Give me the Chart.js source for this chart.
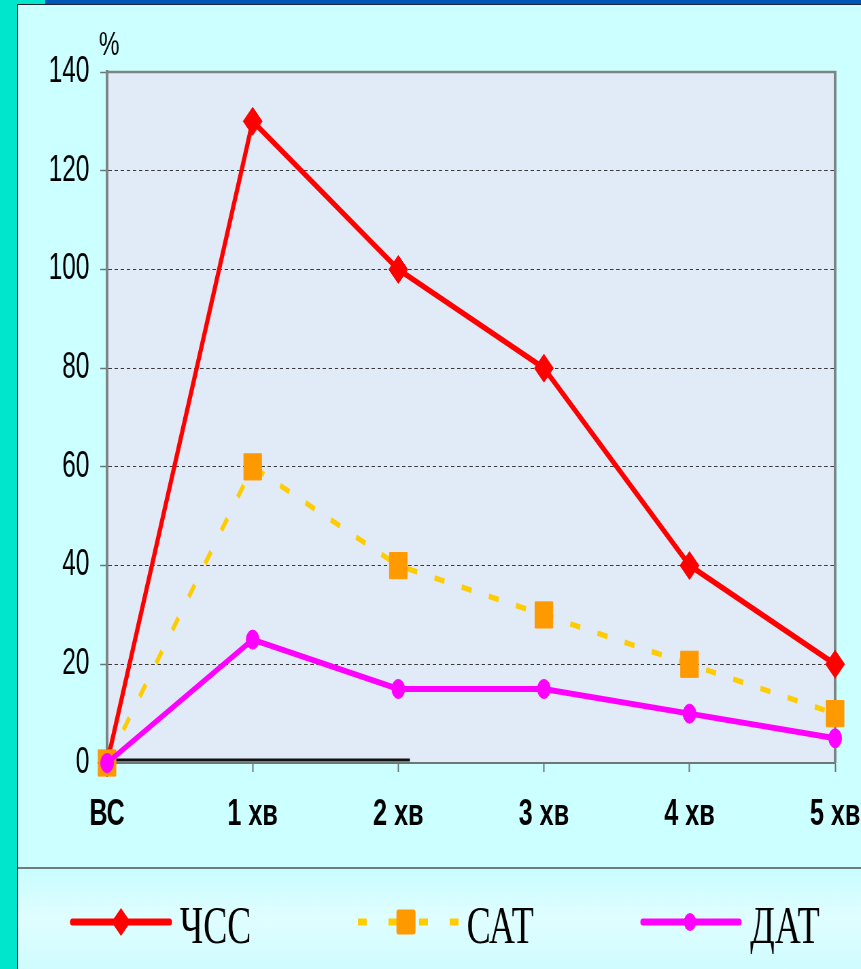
<!DOCTYPE html>
<html>
<head>
<meta charset="utf-8">
<script src="https://cdn.jsdelivr.net/npm/chart.js@4"></script>
<style>
  html, body { margin: 0; padding: 0; width: 861px; height: 969px; overflow: hidden; background: #CCFFFF; }
  /* the chart is drawn wide and narrowed horizontally, giving the condensed slide look */
  #stage { position: absolute; left: 18px; top: 0; width: 1240px; height: 969px; transform: scaleX(0.6798); transform-origin: 0 0; }
  .deco { position: absolute; z-index: 2; }
  #strip { left: 0; top: 0; width: 17px; height: 969px; background: #00E6CC; }
  #stripEdge { left: 17px; top: 0; width: 1px; height: 969px; background: #1c2a2a; }
  #corner { left: 0; top: 0; width: 45px; height: 4px; background: #00E6CC; }
  #topBar { left: 45px; top: 0; width: 816px; height: 4px; background: #0056B6; }
  #topEdge { left: 17px; top: 4px; width: 844px; height: 1px; background: #1c2430; }
</style>
</head>
<body>
<div id="strip" class="deco"></div>
<div id="stripEdge" class="deco"></div>
<div id="corner" class="deco"></div>
<div id="topBar" class="deco"></div>
<div id="topEdge" class="deco"></div>
<div id="stage"><canvas id="chart" width="1240" height="969"></canvas></div>
<script>
// Time points and the percentage change of each indicator
const categories = ['ВС', '1 хв', '2 хв', '3 хв', '4 хв', '5 хв'];
const heartRate = [0, 130, 100, 80, 40, 20];   // ЧСС
const systolic  = [0, 60, 40, 30, 20, 10];     // САТ
const diastolic = [0, 25, 15, 15, 10, 5];      // ДАТ
const seriesNames = ['ЧСС', 'САТ', 'ДАТ'];
const yMin = 0;
const yMax = 140;
const yStep = 20;
const unitLabel = '%';

const SANS = '"Liberation Sans", Arial, sans-serif';
const SERIF = '"Liberation Serif", "Times New Roman", serif';
const RED = '#FF0000', GOLD = '#FFCC00', ORANGE = '#FF9900', MAGENTA = '#FF00FF';

// page background, plot fill and the legend band
const backdrop = {
  id: 'backdrop',
  beforeDraw(chart) {
    const { ctx, width, height, chartArea: a } = chart;
    ctx.save();
    ctx.fillStyle = '#CCFFFF';
    ctx.fillRect(0, 0, width, height);
    const g = ctx.createLinearGradient(0, 869, 0, height);
    g.addColorStop(0, '#C9FDFF');
    g.addColorStop(0.5, '#E0FEFF');
    g.addColorStop(1, '#CFFCFF');
    ctx.fillStyle = g;
    ctx.fillRect(0, 869, width, height - 869);
    ctx.strokeStyle = '#6f7c7c';
    ctx.lineWidth = 2;
    ctx.beginPath();
    ctx.moveTo(0, 868);
    ctx.lineTo(width, 868);
    ctx.stroke();
    ctx.fillStyle = '#E1EBF7';
    ctx.fillRect(a.left, a.top, a.right - a.left, a.bottom - a.top);
    ctx.restore();
  }
};

// top and right frame of the plot, plus the dark stroke along the base
const frame = {
  id: 'frame',
  beforeDatasetsDraw(chart) {
    const { ctx, chartArea: a } = chart;
    ctx.save();
    ctx.strokeStyle = '#7b8585';
    ctx.lineWidth = 2.5;
    ctx.beginPath();
    ctx.moveTo(a.left, a.top);
    ctx.lineTo(a.right + 2, a.top);
    ctx.stroke();
    ctx.lineWidth = 4;
    ctx.beginPath();
    ctx.moveTo(a.right, a.top);
    ctx.lineTo(a.right, a.bottom);
    ctx.stroke();
    ctx.strokeStyle = '#111111';
    ctx.lineWidth = 3;
    ctx.beginPath();
    ctx.moveTo(a.left, a.bottom - 3);
    ctx.lineTo(a.left + (a.right - a.left) * 0.416, a.bottom - 3);
    ctx.stroke();
    // unit above the value axis
    ctx.fillStyle = '#000';
    ctx.font = '34px ' + SANS;
    ctx.textAlign = 'center';
    ctx.textBaseline = 'middle';
    ctx.fillText(unitLabel, a.left + 3, 46);
    ctx.restore();
  }
};

// legend row under the separator
const legendRow = {
  id: 'legendRow',
  afterDraw(chart) {
    const { ctx } = chart;
    const y = 922;
    ctx.save();
    ctx.lineCap = 'round';
    // ЧСС
    ctx.strokeStyle = RED; ctx.lineWidth = 7;
    ctx.beginPath(); ctx.moveTo(80, y); ctx.lineTo(223, y); ctx.stroke();
    ctx.fillStyle = RED;
    ctx.beginPath();
    ctx.moveTo(151.5, y - 14); ctx.lineTo(165.5, y); ctx.lineTo(151.5, y + 14); ctx.lineTo(137.5, y);
    ctx.closePath(); ctx.fill();
    // САТ
    ctx.lineCap = 'butt';
    ctx.strokeStyle = GOLD; ctx.lineWidth = 7;
    ctx.setLineDash([13, 32]);
    ctx.beginPath(); ctx.moveTo(500, y); ctx.lineTo(648, y); ctx.stroke();
    ctx.setLineDash([]);
    ctx.fillStyle = ORANGE;
    ctx.beginPath();
    if (ctx.roundRect) ctx.roundRect(556.7, y - 12.5, 28, 25, 3); else ctx.rect(556.7, y - 12.5, 28, 25);
    ctx.fill();
    // ДАТ
    ctx.lineCap = 'round';
    ctx.strokeStyle = MAGENTA; ctx.lineWidth = 7;
    ctx.beginPath(); ctx.moveTo(919, y); ctx.lineTo(1061, y); ctx.stroke();
    ctx.fillStyle = MAGENTA;
    ctx.beginPath(); ctx.arc(988.5, y, 9, 0, Math.PI * 2); ctx.fill();
    // names
    ctx.fillStyle = '#000';
    ctx.font = '53px ' + SERIF;
    ctx.textAlign = 'left';
    ctx.textBaseline = 'alphabetic';
    ctx.fillText(seriesNames[0], 238, 943);
    ctx.fillText(seriesNames[1], 660, 943);
    ctx.fillText(seriesNames[2], 1077, 943);
    ctx.restore();
  }
};

new Chart(document.getElementById('chart'), {
  type: 'line',
  data: {
    labels: categories,
    datasets: [
      {
        label: seriesNames[0], data: heartRate, order: 3, clip: false,
        borderColor: RED, backgroundColor: RED, borderWidth: 6, tension: 0,
        pointStyle: 'rectRot', pointRadius: 14, pointBackgroundColor: RED,
        pointBorderColor: RED, pointBorderWidth: 1
      },
      {
        label: seriesNames[1], data: systolic, order: 2, clip: false,
        borderColor: GOLD, backgroundColor: ORANGE, borderWidth: 5.5, borderDash: [15, 26], tension: 0,
        pointStyle: 'rect', pointRadius: 18.5, pointBackgroundColor: ORANGE,
        pointBorderColor: ORANGE, pointBorderWidth: 1
      },
      {
        label: seriesNames[2], data: diastolic, order: 1, clip: false,
        borderColor: MAGENTA, backgroundColor: MAGENTA, borderWidth: 6, tension: 0,
        pointStyle: 'circle', pointRadius: 9.5, pointBackgroundColor: MAGENTA,
        pointBorderColor: MAGENTA, pointBorderWidth: 1
      }
    ]
  },
  options: {
    responsive: false,
    devicePixelRatio: 1,
    animation: false,
    events: [],
    layout: { padding: { top: 72, right: 38, bottom: 126, left: 0 } },
    plugins: { legend: { display: false }, tooltip: { enabled: false } },
    scales: {
      x: {
        type: 'category',
        offset: false,
        grid: {
          display: true, drawOnChartArea: false, drawTicks: true,
          tickLength: 9, tickColor: '#6b7575', tickWidth: 2, tickBorderDash: []
        },
        border: { display: true, color: '#6e7777', width: 2 },
        ticks: {
          color: '#000', padding: 21, maxRotation: 0, autoSkip: false,
          font: { family: SANS, size: 37, weight: 'bold' }
        },
        afterFit(scale) {
          scale.height = 80;
          scale.paddingLeft = 0;
          scale.paddingRight = 0;
        }
      },
      y: {
        min: yMin, max: yMax,
        grid: {
          drawOnChartArea: true, drawTicks: true,
          color: (c) => (c.tick && (c.tick.value === yMin || c.tick.value === yMax)) ? 'rgba(0,0,0,0)' : '#3a3a3a',
          lineWidth: 1,
          tickLength: 10, tickColor: '#6b7575', tickWidth: 1.5, tickBorderDash: []
        },
        border: { display: true, color: '#7b8585', width: 4, dash: [5, 4] },
        ticks: {
          stepSize: yStep, color: '#000', padding: 16,
          font: { family: SANS, size: 36 }
        },
        afterFit(scale) {
          scale.width = 131;
          scale.paddingTop = 0;
          scale.paddingBottom = 0;
        }
      }
    }
  },
  plugins: [backdrop, frame, legendRow]
});
</script>
</body>
</html>
